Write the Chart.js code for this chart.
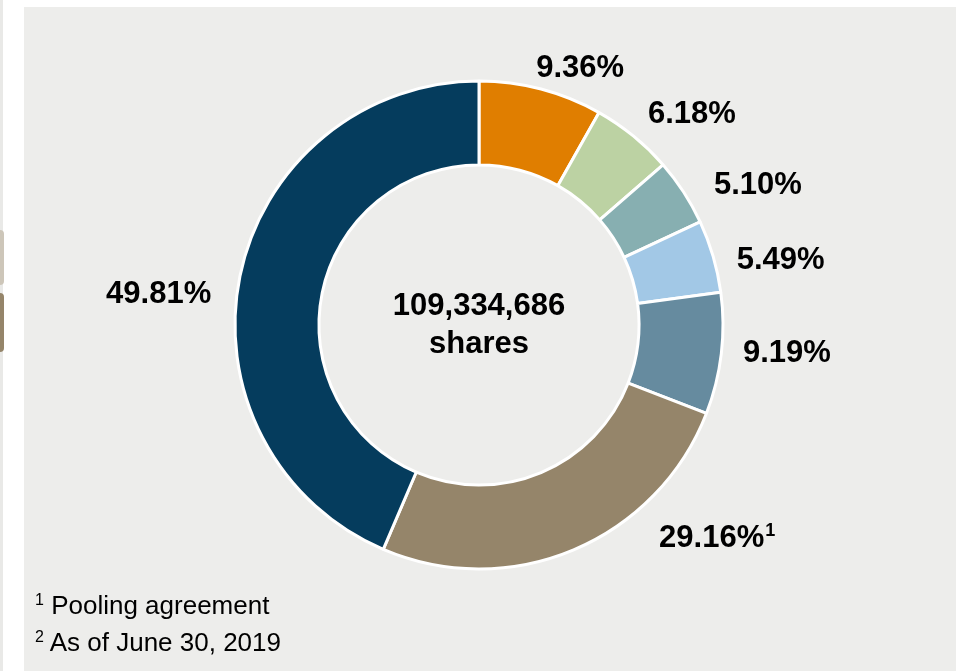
<!DOCTYPE html>
<html>
<head>
<meta charset="utf-8">
<title>Shareholder structure</title>
<script src="https://cdn.jsdelivr.net/npm/chart.js@4/dist/chart.umd.min.js"></script>
<style>
  html, body {
    margin: 0;
    padding: 0;
    background: #ffffff;
    width: 961px;
    height: 671px;
    overflow: hidden;
    font-family: "Liberation Sans", Arial, Helvetica, sans-serif;
  }
  /* thin strip and tab markers on the far left */
  .edge-strip {
    position: absolute; left: 0; top: 0; width: 3px; height: 671px;
    background: #e9e9e7;
  }
  .edge-tab {
    position: absolute; left: 0; width: 4px;
    border-radius: 0 4px 4px 0;
  }
  .edge-tab.light { top: 230px; height: 55px; background: #cdc6b9; }
  .edge-tab.dark  { top: 293px; height: 59px; background: #95856a; }
  .panel {
    position: absolute; left: 24px; top: 7px; width: 932px; height: 664px;
    background: #ededeb;
  }
  #share-chart {
    position: absolute; left: 0; top: 0;
  }
  .footnotes {
    position: absolute; left: 35px; top: 587px;
    font-size: 26px; line-height: 37px; color: #000;
  }
  .footnotes .mark {
    font-size: 16px; vertical-align: 9px; line-height: 0;
  }
</style>
</head>
<body>
<div class="edge-strip"></div>
<div class="edge-tab light"></div>
<div class="edge-tab dark"></div>
<div class="panel"></div>
<canvas id="share-chart" width="961" height="671"></canvas>
<div class="footnotes">
  <div><span class="mark">1</span> Pooling agreement</div>
  <div><span class="mark">2</span> As of June 30, 2019</div>
</div>
<script>
// Shareholding split, clockwise from 12 o'clock
const categories = ['Holder A', 'Holder B', 'Holder C', 'Holder D', 'Holder E', 'Pool', 'Free float']
const shareValues = [9.36, 6.18, 5.10, 5.49, 9.19, 29.16, 49.81]
const footnoteMarks = ['', '', '', '', '', '1', '']
const totalShares = '109,334,686'
const centerCaption = 'shares'

const sliceColors = ['#e07e00', '#bcd2a3', '#87afb1', '#a2c8e6', '#668b9f', '#95856a', '#053c5d']

// where each percentage sits: degrees turned off the slice middle, distance from centre
const labelPlacement = [
  { turn: 6.6, dist: 278 },
  { turn: 5.8, dist: 301 },
  { turn: 6.0, dist: 313 },
  { turn: 3.8, dist: 309 },
  { turn: -1.9, dist: 309 },
  { turn: -25, dist: 314 },
  { turn: -5.7, dist: 322 }
]

const FONT = '"Liberation Sans", Arial, Helvetica, sans-serif'

const sliceLabels = {
  id: 'sliceLabels',
  afterDatasetsDraw(chart) {
    const ctx = chart.ctx
    const meta = chart.getDatasetMeta(0)
    ctx.save()
    ctx.fillStyle = '#000'
    ctx.textBaseline = 'alphabetic'
    meta.data.forEach((arc, i) => {
      const { x, y, startAngle, endAngle } = arc.getProps(['x', 'y', 'startAngle', 'endAngle'], true)
      const place = labelPlacement[i]
      const a = (startAngle + endAngle) / 2 + place.turn * Math.PI / 180
      const lx = x + Math.cos(a) * place.dist
      const ly = y + Math.sin(a) * place.dist
      const text = shareValues[i].toFixed(2) + '%'

      ctx.font = 'bold 31px ' + FONT
      const w = ctx.measureText(text).width
      const baseline = ly + 11
      ctx.textAlign = 'left'
      ctx.fillText(text, lx - w / 2, baseline)

      if (footnoteMarks[i]) {
        ctx.font = 'bold 18px ' + FONT
        ctx.fillText(footnoteMarks[i], lx + w / 2 + 1, baseline - 11)
      }
    })

    // total in the hole
    const c = meta.data[0]
    ctx.textAlign = 'center'
    ctx.font = 'bold 31px ' + FONT
    ctx.fillText(totalShares, c.x, c.y - 10)
    ctx.fillText(centerCaption, c.x, c.y + 28)
    ctx.restore()
  }
}

new Chart(document.getElementById('share-chart'), {
  type: 'doughnut',
  data: {
    labels: categories,
    datasets: [{
      data: shareValues,
      backgroundColor: sliceColors,
      borderColor: '#ffffff',
      borderWidth: 3,
      hoverOffset: 0
    }]
  },
  options: {
    responsive: false,
    animation: false,
    events: [],
    radius: 244,
    // ratio of the outer radius, so the hole is about 160px wide each way
    cutout: '65.6%',
    layout: {
      padding: { left: 0, right: 3, top: 0, bottom: 21 }
    },
    plugins: {
      legend: { display: false },
      tooltip: { enabled: false }
    }
  },
  plugins: [sliceLabels]
})
</script>
</body>
</html>
